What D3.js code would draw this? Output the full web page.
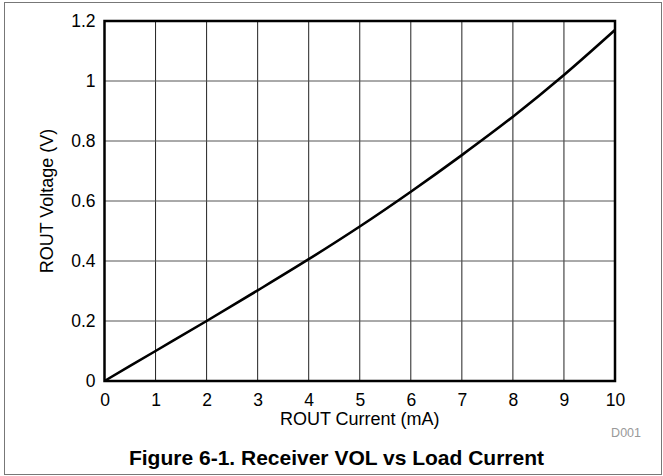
<!DOCTYPE html>
<meta charset="utf-8">
<style>
body { margin: 0; background: #fff; }
svg { font-family: "Liberation Sans", Arial, sans-serif; }
</style>
<body>
<svg width="663" height="476"></svg>
<script src="https://d3js.org/d3.v7.min.js"></script>
<script>
// ROUT current (mA) vs ROUT voltage (V)
var current = [0, 1, 2, 3, 4, 5, 6, 7, 8, 9, 10];
var voltage = [0, 0.1, 0.2, 0.302, 0.406, 0.515, 0.631, 0.753, 0.881, 1.02, 1.17];
var xTicks = [0, 1, 2, 3, 4, 5, 6, 7, 8, 9, 10];
var yTicks = [0, 0.2, 0.4, 0.6, 0.8, 1, 1.2];

var svg = d3.select("svg");
var margin = {top: 21, left: 104.5, right: 48, bottom: 95};
var width = 663 - margin.left - margin.right;
var height = 476 - margin.top - margin.bottom;

// outer frame
svg.append("rect")
    .attr("x", 4.5).attr("y", 2.5)
    .attr("width", 657).attr("height", 472)
    .attr("fill", "none")
    .attr("stroke", "#777")
    .attr("stroke-width", 1);

var x = d3.scaleLinear().domain([0, 10]).range([0, width]);
var y = d3.scaleLinear().domain([0, 1.2]).range([height, 0]);

var g = svg.append("g")
    .attr("transform", "translate(" + margin.left + "," + margin.top + ")");

// grid
g.append("g").selectAll("line")
    .data(xTicks.slice(1, -1))
    .enter().append("line")
    .attr("x1", function(d) { return x(d); })
    .attr("x2", function(d) { return x(d); })
    .attr("y1", 0).attr("y2", height)
    .attr("stroke", "#222").attr("stroke-width", 1);

g.append("g").selectAll("line")
    .data(yTicks.slice(1, -1))
    .enter().append("line")
    .attr("y1", function(d) { return y(d); })
    .attr("y2", function(d) { return y(d); })
    .attr("x1", 0).attr("x2", width)
    .attr("stroke", "#555").attr("stroke-width", 1);

// axes (labels only)
var xAxis = g.append("g")
    .attr("transform", "translate(0," + height + ")")
    .call(d3.axisBottom(x).tickValues(xTicks).tickSize(0).tickPadding(13).tickFormat(d3.format("d")));
var yAxis = g.append("g")
    .call(d3.axisLeft(y).tickValues(yTicks).tickSize(0).tickPadding(9).tickFormat(function(d) { return d3.format("~g")(d); }));
[xAxis, yAxis].forEach(function(a) {
    a.select(".domain").remove();
    a.attr("font-size", 17.5).attr("font-family", "Liberation Sans, Arial, sans-serif");
    a.selectAll("text").attr("fill", "#000");
});

// plot border
g.append("rect")
    .attr("width", width).attr("height", height)
    .attr("fill", "none")
    .attr("stroke", "#000")
    .attr("stroke-width", 2.5);

// curve
var line = d3.line()
    .x(function(d, i) { return x(current[i]); })
    .y(function(d) { return y(d); })
    .curve(d3.curveMonotoneX);

g.append("path")
    .datum(voltage)
    .attr("d", line)
    .attr("fill", "none")
    .attr("stroke", "#000")
    .attr("stroke-width", 2.6);

// titles
svg.append("text")
    .attr("x", margin.left + width / 2)
    .attr("y", 425)
    .attr("text-anchor", "middle")
    .attr("font-size", 18)
    .text("ROUT Current (mA)");

svg.append("text")
    .attr("transform", "translate(53," + (margin.top + height / 2) + ") rotate(-90)")
    .attr("text-anchor", "middle")
    .attr("font-size", 18)
    .text("ROUT Voltage (V)");

svg.append("text")
    .attr("x", 641)
    .attr("y", 437)
    .attr("text-anchor", "end")
    .attr("font-size", 12.5)
    .attr("fill", "#999")
    .text("D001");

svg.append("text")
    .attr("x", 336.5)
    .attr("y", 465)
    .attr("text-anchor", "middle")
    .attr("font-size", 21)
    .attr("font-weight", "bold")
    .text("Figure 6-1. Receiver VOL vs Load Current");
</script>
</body>
